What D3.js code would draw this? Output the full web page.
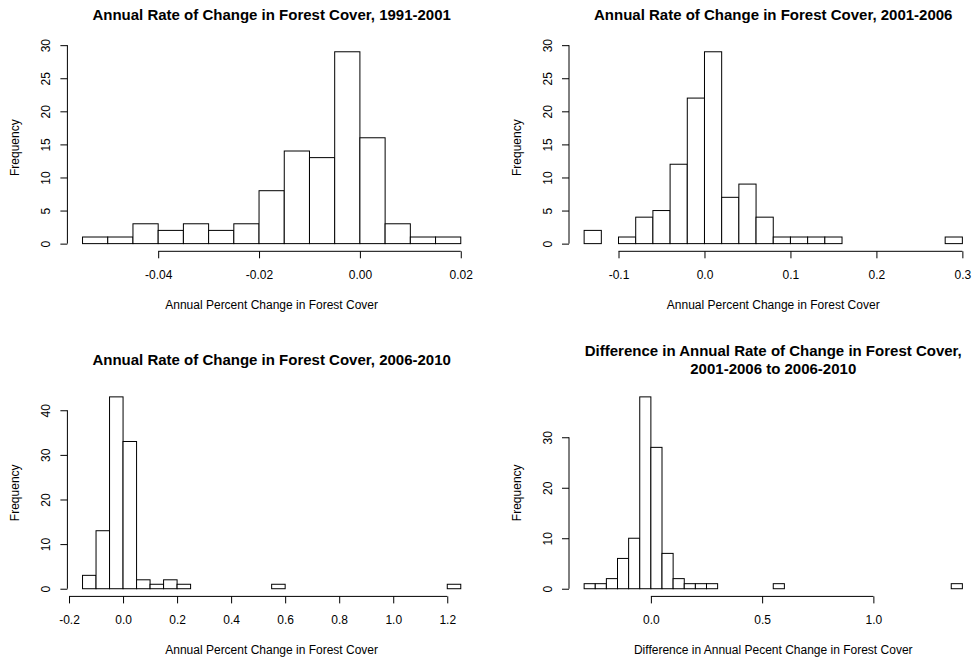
<!DOCTYPE html>
<html>
<head>
<meta charset="utf-8">
<script src="https://cdn.jsdelivr.net/npm/d3@7"></script>
<style>
  body { margin: 0; background: #fff; }
  text { font-family: "Liberation Sans", Arial, sans-serif; fill: #000; }
</style>
</head>
<body>
<svg></svg>
<script>
var width = 972;
var height = 662;

// histogram counts (bins of equal width)
var counts9101 = [1, 1, 3, 2, 3, 2, 3, 8, 14, 13, 29, 16, 3, 1, 1];
var counts0106 = [2, 0, 1, 4, 5, 12, 22, 29, 7, 9, 4, 1, 1, 1, 1, 0, 0, 0, 0, 0, 0, 1];
var counts0610 = [3, 13, 43, 33, 2, 1, 2, 1, 0, 0, 0, 0, 0, 0, 1,
                  0, 0, 0, 0, 0, 0, 0, 0, 0, 0, 0, 0, 1];
var countsDiff = [1, 1, 2, 6, 10, 38, 28, 7, 2, 1, 1, 1, 0, 0, 0, 0, 0, 1,
                  0, 0, 0, 0, 0, 0, 0, 0, 0, 0, 0, 0, 0, 0, 0, 1];

// first break and bin width of each histogram
var binStarts = [-0.055, -0.14, -0.15, -0.3];
var binWidths = [0.005, 0.02, 0.05, 0.05];

// tick labels
var xTicks9101 = [-0.04, -0.02, 0, 0.02];
var xLabels9101 = ['-0.04', '-0.02', '0.00', '0.02'];
var xTicks0106 = [-0.1, 0, 0.1, 0.2, 0.3];
var xLabels0106 = ['-0.1', '0.0', '0.1', '0.2', '0.3'];
var xTicks0610 = [-0.2, 0, 0.2, 0.4, 0.6, 0.8, 1.0, 1.2];
var xLabels0610 = ['-0.2', '0.0', '0.2', '0.4', '0.6', '0.8', '1.0', '1.2'];
var xTicksDiff = [0, 0.5, 1.0];
var xLabelsDiff = ['0.0', '0.5', '1.0'];
var yTicks30 = [0, 5, 10, 15, 20, 25, 30];
var yTicks40 = [0, 10, 20, 30, 40];
var yTicksDiff = [0, 10, 20, 30];

var titles = [
  ['Annual Rate of Change in Forest Cover, 1991-2001'],
  ['Annual Rate of Change in Forest Cover, 2001-2006'],
  ['Annual Rate of Change in Forest Cover, 2006-2010'],
  ['Difference in Annual Rate of Change in Forest Cover,', '2001-2006 to 2006-2010']
];
var xTitles = [
  'Annual Percent Change in Forest Cover',
  'Annual Percent Change in Forest Cover',
  'Annual Percent Change in Forest Cover',
  'Difference in Annual Pecent Change in Forest Cover'
];

var panels = [
  {counts: counts9101, xt: xTicks9101, xl: xLabels9101, yt: yTicks30, col: 0, row: 0},
  {counts: counts0106, xt: xTicks0106, xl: xLabels0106, yt: yTicks30, col: 1, row: 0},
  {counts: counts0610, xt: xTicks0610, xl: xLabels0610, yt: yTicks40, col: 0, row: 1},
  {counts: countsDiff, xt: xTicksDiff, xl: xLabelsDiff, yt: yTicksDiff, col: 1, row: 1}
];

// plot regions (R style, axes sit on the region edges)
var lefts = [67.4, 569];
var tops = [44.1, 389.2];
var plotW = 408.5;
var plotH = 207.2;

var svg = d3.select('svg')
    .attr('width', width)
    .attr('height', height)
    .style('display', 'block');

panels.forEach(function (p, i) {
  var x0 = lefts[p.col], y0 = tops[p.row];
  var bins = p.counts.map(function (c, j) {
    return {x0: binStarts[i] + j * binWidths[i], x1: binStarts[i] + (j + 1) * binWidths[i], n: c};
  });
  var lo = bins[0].x0, hi = bins[bins.length - 1].x1;
  var pad = (hi - lo) * 0.04;
  var ymax = d3.max(p.counts);

  var Xscale = d3.scaleLinear().domain([lo - pad, hi + pad]).range([x0, x0 + plotW]);
  var Yscale = d3.scaleLinear().domain([-ymax * 0.04, ymax * 1.04]).range([y0 + plotH, y0]);

  var g = svg.append('g');

  g.selectAll('rect')
      .data(bins)
      .enter()
      .append('rect')
      .attr('x', d => Xscale(d.x0))
      .attr('y', d => Yscale(d.n))
      .attr('width', d => Xscale(d.x1) - Xscale(d.x0))
      .attr('height', d => Yscale(0) - Yscale(d.n))
      .attr('fill', '#fff')
      .attr('stroke', '#000')
      .attr('stroke-width', 1);

  // x axis
  var Xaxis = d3.axisBottom(Xscale)
      .tickValues(p.xt)
      .tickFormat((d, k) => p.xl[k])
      .tickSize(7)
      .tickPadding(12);
  var gx = g.append('g')
      .attr('transform', `translate(0,${y0 + plotH})`)
      .call(Xaxis);
  gx.select('.domain').remove();
  gx.append('line')
      .attr('x1', Xscale(p.xt[0]))
      .attr('x2', Xscale(p.xt[p.xt.length - 1]))
      .attr('stroke', '#000');
  gx.selectAll('text').style('font-size', '12px').attr('fill', '#000');

  // y axis
  var Yaxis = d3.axisLeft(Yscale)
      .tickValues(p.yt)
      .tickSize(7);
  var gy = g.append('g')
      .attr('transform', `translate(${x0},0)`)
      .call(Yaxis);
  gy.select('.domain').remove();
  gy.append('line')
      .attr('y1', Yscale(p.yt[0]))
      .attr('y2', Yscale(p.yt[p.yt.length - 1]))
      .attr('stroke', '#000');
  gy.selectAll('text')
      .attr('x', null)
      .attr('dy', null)
      .attr('text-anchor', 'middle')
      .attr('transform', 'translate(-17,0) rotate(-90)')
      .attr('fill', '#000')
      .style('font-size', '12px');

  g.selectAll('.tick line').attr('stroke', '#000');

  var cx = x0 + plotW / 2;
  var lines = titles[i];
  lines.forEach(function (t, k) {
    g.append('text')
        .attr('text-anchor', 'middle')
        .attr('x', cx)
        .attr('y', y0 - 24.2 + (k - (lines.length - 1) / 2) * 17.3)
        .style('font-size', '15px')
        .style('font-weight', 'bold')
        .text(t);
  });

  g.append('text')
      .attr('text-anchor', 'middle')
      .attr('x', cx)
      .attr('y', y0 + plotH + 57.3)
      .style('font-size', '12px')
      .text(xTitles[i]);

  g.append('text')
      .attr('text-anchor', 'middle')
      .attr('transform', `translate(${x0 - 48.5},${y0 + plotH / 2}) rotate(-90)`)
      .style('font-size', '12px')
      .text('Frequency');
});
</script>
</body>
</html>
